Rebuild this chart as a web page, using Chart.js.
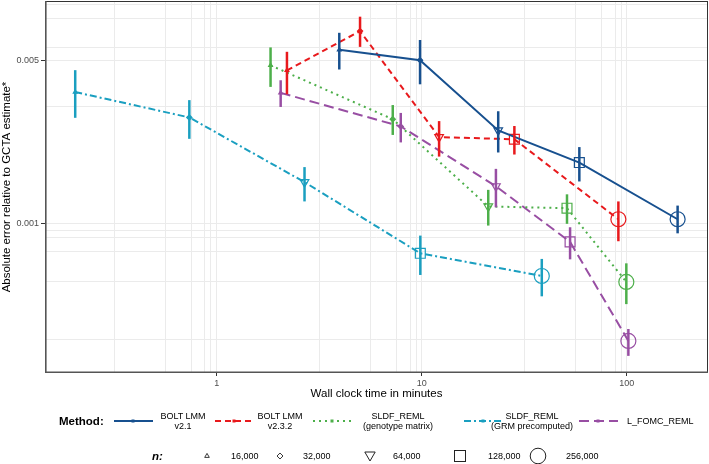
<!DOCTYPE html>
<html>
<head>
<meta charset="utf-8">
<script src="https://cdn.jsdelivr.net/npm/chart.js@4.4.1/dist/chart.umd.min.js"></script>
<style>
  html, body { margin: 0; padding: 0; background: #fff; }
  #wrap { position: relative; width: 709px; height: 464px; font-family: "Liberation Sans", Arial, Helvetica, sans-serif; color: #000; overflow: hidden; }
  #c { position: absolute; left: 0; top: 0; }
  .t { position: absolute; white-space: nowrap; }
  .lab { position: absolute; font-size: 9px; line-height: 9.5px; text-align: center; transform: translate(-50%, -50%); white-space: nowrap; }
  svg { position: absolute; overflow: visible; }
</style>
</head>
<body>
<div id="wrap">
  <canvas id="c" width="709" height="464"></canvas>
</div>
<script>
// ---------- data ----------
const methods = ['BOLT LMM v2.1', 'BOLT LMM v2.3.2', 'SLDF_REML (genotype matrix)', 'SLDF_REML (GRM precomputed)', 'L_FOMC_REML'];
const nLabels = ['16,000', '32,000', '64,000', '128,000', '256,000'];

const boltV21Time = [3.96, 9.81, 23.6, 58.7, 177];
const boltV21Err  = [0.00554, 0.00500, 0.00250, 0.00182, 0.00104];
const boltV21Lo   = [0.00456, 0.00394, 0.00201, 0.00151, 0.000905];
const boltV21Hi   = [0.00655, 0.00610, 0.00302, 0.00212, 0.00119];

const boltV232Time = [2.20, 5.00, 12.15, 28.3, 91.0];
const boltV232Err  = [0.00452, 0.00666, 0.00234, 0.00229, 0.00104];
const boltV232Lo   = [0.00357, 0.00570, 0.00193, 0.00197, 0.000837];
const boltV232Hi   = [0.00543, 0.00768, 0.00274, 0.00261, 0.00124];

const sldfGenoTime = [1.83, 7.22, 21.1, 51.1, 99.5];
const sldfGenoErr  = [0.00475, 0.00279, 0.00118, 0.00116, 0.000560];
const sldfGenoLo   = [0.00384, 0.00239, 0.000977, 0.000994, 0.000450];
const sldfGenoHi   = [0.00567, 0.00321, 0.00139, 0.00133, 0.000673];

const sldfGrmTime = [0.204, 0.735, 2.68, 9.84, 38.5];
const sldfGrmErr  = [0.00365, 0.00284, 0.00150, 0.000743, 0.000594];
const sldfGrmLo   = [0.00283, 0.00230, 0.00124, 0.000600, 0.000486];
const sldfGrmHi   = [0.00453, 0.00337, 0.00174, 0.000885, 0.000703];

const lfomcTime = [2.05, 7.90, 23.0, 52.9, 101.8];
const lfomcErr  = [0.00362, 0.00260, 0.00144, 0.000832, 0.000313];
const lfomcLo   = [0.00315, 0.00222, 0.00117, 0.000700, 0.000270];
const lfomcHi   = [0.00410, 0.00297, 0.00171, 0.000961, 0.000352];

// axis ticks / grid values
const xMajorTicks = [1, 10, 100];
const xGridValues = [0.316, 0.564, 0.755, 0.87, 0.935, 1, 3.16, 5.64, 7.55, 8.77, 9.38, 10, 31.6, 56.4, 75.5, 87.7, 93.8, 100];
const yMajorTicks = [0.001, 0.005];
const yGridValues = [0.000316, 0.000564, 0.000755, 0.00087, 0.000935, 0.001, 0.00316, 0.005, 0.00564, 0.00755, 0.0087];

// ---------- styles ----------
const colors = ['#17508f', '#e8191c', '#4daf4a', '#1a9fc0', '#984ea3'];
const dashes = [[], [6, 4], [2, 4], [7, 3, 2, 3], [10, 5]];
const shapes = ['triangle', 'rectRot', 'triangle', 'rect', 'circle'];
const rotations = [0, 0, 180, 0, 0];
const radii = [2.2, 2.6, 5, 7, 7.5];

const series = [
  [boltV21Time, boltV21Err, boltV21Lo, boltV21Hi],
  [boltV232Time, boltV232Err, boltV232Lo, boltV232Hi],
  [sldfGenoTime, sldfGenoErr, sldfGenoLo, sldfGenoHi],
  [sldfGrmTime, sldfGrmErr, sldfGrmLo, sldfGrmHi],
  [lfomcTime, lfomcErr, lfomcLo, lfomcHi]
];

const datasets = series.map((s, k) => ({
  label: methods[k],
  data: s[0].map((t, i) => ({ x: t, y: s[1][i] })),
  errLo: s[2],
  errHi: s[3],
  showLine: true,
  borderColor: colors[k],
  borderWidth: 2,
  borderDash: dashes[k],
  pointStyle: shapes,
  pointRotation: rotations,
  pointRadius: radii,
  pointBorderColor: colors[k],
  pointBackgroundColor: [colors[k], colors[k], 'rgba(0,0,0,0)', 'rgba(0,0,0,0)', 'rgba(0,0,0,0)'],
  pointBorderWidth: 1.2,
  tension: 0
}));

const near = (v, arr) => arr.some(a => Math.abs(v - a) / a < 1e-6);

const errorBars = {
  id: 'errorBars',
  afterDatasetsDraw(chart) {
    const { ctx, scales: { x, y } } = chart;
    ctx.save();
    ctx.lineCap = 'butt';
    chart.data.datasets.forEach(ds => {
      ctx.strokeStyle = ds.borderColor;
      ctx.lineWidth = 2.5;
      ds.data.forEach((p, i) => {
        const px = x.getPixelForValue(p.x);
        ctx.beginPath();
        ctx.moveTo(px, y.getPixelForValue(ds.errLo[i]));
        ctx.lineTo(px, y.getPixelForValue(ds.errHi[i]));
        ctx.stroke();
      });
    });
    ctx.restore();
  }
};

const frame = {
  id: 'frame',
  afterDraw(chart) {
    const { ctx, chartArea: a } = chart;
    ctx.save();
    ctx.strokeStyle = '#333';
    ctx.lineWidth = 1;
    ctx.strokeRect(a.left + 0.5, a.top + 0.5, a.right - a.left - 1, a.bottom - a.top - 1);
    ctx.strokeStyle = '#555';
    ctx.lineWidth = 1.6;
    ctx.beginPath();
    ctx.moveTo(a.left + 0.8, a.top);
    ctx.lineTo(a.left + 0.8, a.bottom - 0.8);
    ctx.lineTo(a.right, a.bottom - 0.8);
    ctx.stroke();
    ctx.restore();
  }
};

const FONT = "'Liberation Sans', Arial, Helvetica, sans-serif";

new Chart(document.getElementById('c'), {
  type: 'scatter',
  data: { datasets },
  plugins: [errorBars, frame],
  options: {
    responsive: false,
    animation: false,
    devicePixelRatio: 1,
    layout: { padding: { left: 0, right: 1, top: 1, bottom: 62 }, autoPadding: false },
    plugins: { legend: { display: false }, tooltip: { enabled: false } },
    scales: {
      x: {
        type: 'logarithmic',
        min: 0.1453,
        max: 249,
        afterBuildTicks: s => { s.ticks = xGridValues.map(v => ({ value: v })); },
        afterFit: s => { s.height = 29; s.paddingLeft = 0; s.paddingRight = 0; },
        border: { display: false },
        grid: {
          color: '#ebebeb',
          lineWidth: 1,
          drawTicks: true,
          tickLength: 3,
          tickColor: c => (c.tick && near(c.tick.value, xMajorTicks)) ? '#333' : 'rgba(0,0,0,0)'
        },
        ticks: {
          autoSkip: false,
          maxRotation: 0,
          padding: 2,
          color: '#4d4d4d',
          font: { family: FONT, size: 9 },
          callback: v => near(v, xMajorTicks) ? String(v) : ''
        },
        title: { display: false }
      },
      y: {
        type: 'logarithmic',
        min: 0.000228,
        max: 0.008965,
        afterBuildTicks: s => { s.ticks = yGridValues.map(v => ({ value: v })); },
        afterFit: s => { s.width = 45; s.paddingTop = 0; s.paddingBottom = 0; },
        border: { display: false },
        grid: {
          color: '#ebebeb',
          lineWidth: 1,
          drawTicks: true,
          tickLength: 4,
          tickColor: c => (c.tick && near(c.tick.value, yMajorTicks)) ? '#333' : 'rgba(0,0,0,0)'
        },
        ticks: {
          autoSkip: false,
          padding: 2,
          color: '#4d4d4d',
          font: { family: FONT, size: 9 },
          callback: v => near(v, yMajorTicks) ? String(v) : ''
        },
        title: {
          display: true,
          text: 'Absolute error relative to GCTA estimate*',
          color: '#000',
          font: { family: FONT, size: 11.5 },
          padding: { top: 0, bottom: 0 }
        }
      }
    }
  }
});

// ---------- HTML legend / axis title ----------
const wrap = document.getElementById('wrap');
function addText(txt, left, top, css) {
  const d = document.createElement('div');
  d.className = 't';
  d.textContent = txt;
  d.style.left = left + 'px';
  d.style.top = top + 'px';
  Object.assign(d.style, css || {});
  wrap.appendChild(d);
  return d;
}
function addSvg(left, top, w, h, inner) {
  const ns = 'http://www.w3.org/2000/svg';
  const s = document.createElementNS(ns, 'svg');
  s.setAttribute('width', w); s.setAttribute('height', h);
  s.style.left = left + 'px'; s.style.top = top + 'px';
  s.innerHTML = inner;
  wrap.appendChild(s);
}

// x-axis title
addText('Wall clock time in minutes', 376.5, 393, { fontSize: '11.5px', transform: 'translate(-50%,-50%)' });

// Method legend row
const rowY = 421;
addText('Method:', 59, rowY, { fontSize: '11.5px', fontWeight: 'bold', transform: 'translateY(-50%)' });
const keyX = [114, 215, 313, 464, 579];
const labCX = [183, 280, 398, 532, null];
const labLines = [['BOLT LMM', 'v2.1'], ['BOLT LMM', 'v2.3.2'], ['SLDF_REML', '(genotype matrix)'], ['SLDF_REML', '(GRM precomputed)'], ['L_FOMC_REML']];
keyX.forEach((kx, k) => {
  const da = dashes[k].length ? dashes[k].join(' ') : 'none';
  addSvg(kx, rowY - 6, 39, 12,
    `<line x1="0" y1="6" x2="39" y2="6" stroke="${colors[k]}" stroke-width="2" stroke-dasharray="${da}"/>` +
    `<rect x="17.5" y="4.5" width="3" height="3" fill="${colors[k]}"/>`);
  if (labCX[k] !== null) {
    const d = document.createElement('div');
    d.className = 'lab';
    d.style.left = labCX[k] + 'px';
    d.style.top = rowY + 'px';
    d.innerHTML = labLines[k].join('<br>');
    wrap.appendChild(d);
  } else {
    addText(labLines[k][0], 627, rowY, { fontSize: '9px', transform: 'translateY(-50%)' });
  }
});

// n legend row
const nY = 456;
addText('n:', 152, nY, { fontSize: '11.5px', fontWeight: 'bold', fontStyle: 'italic', transform: 'translateY(-50%)' });
const nKeyX = [207, 280, 370, 460, 538];
const nLabX = [231, 303, 393, 488, 566];
const nShapes = [
  `<polygon points="0,-2.6 2.3,1.4 -2.3,1.4" fill="none" stroke="#222" stroke-width="0.9"/>`,
  `<polygon points="0,-3 3,0 0,3 -3,0" fill="none" stroke="#222" stroke-width="0.9"/>`,
  `<polygon points="0,5 -5.2,-4 5.2,-4" fill="none" stroke="#222" stroke-width="1"/>`,
  `<rect x="-5.5" y="-5.5" width="11" height="11" fill="none" stroke="#222" stroke-width="1"/>`,
  `<circle cx="0" cy="0" r="7.8" fill="none" stroke="#222" stroke-width="1"/>`
];
nKeyX.forEach((kx, i) => {
  addSvg(kx, nY, 1, 1, nShapes[i]);
  addText(nLabels[i], nLabX[i], nY, { fontSize: '9px', transform: 'translateY(-50%)' });
});
</script>
</body>
</html>
